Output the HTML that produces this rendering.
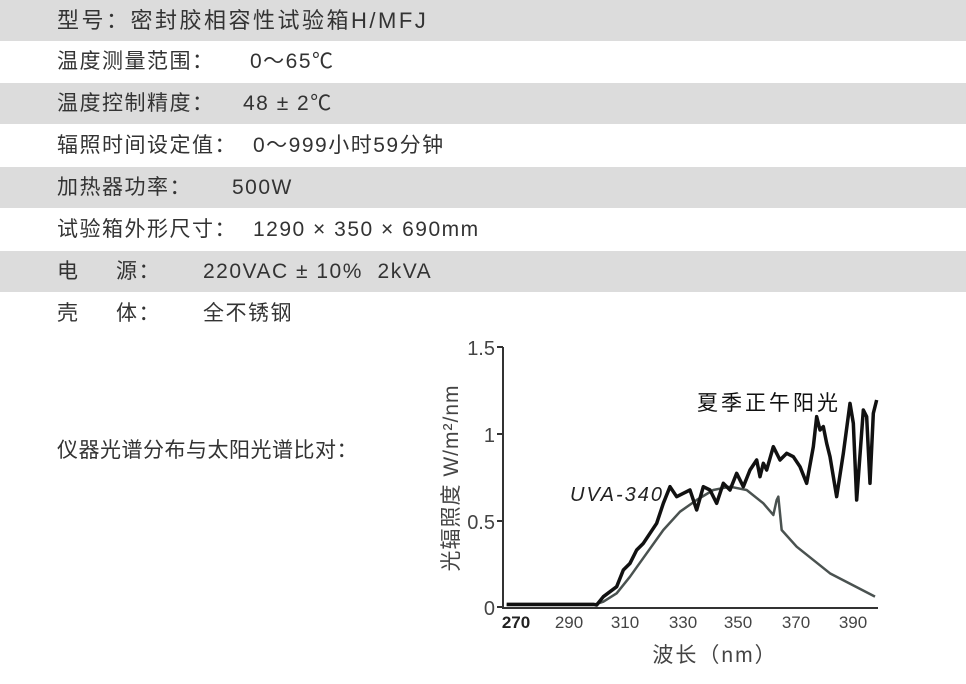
<!DOCTYPE html>
<html><head><meta charset="utf-8"><style>
body{margin:0;width:966px;height:684px;background:#fff;overflow:hidden;font-family:"Liberation Sans","Noto Sans CJK SC",sans-serif;color:#333;position:relative}
.r{position:absolute;left:0;width:966px;height:41px;font-size:21px;line-height:41px;letter-spacing:1.5px}
.g{background:#dcdcdc}
.r span{position:absolute;top:0;white-space:pre}
</style></head><body>
<div class="r g" style="top:0"><span style="left:57px;font-size:22px;letter-spacing:2.5px">型号：密封胶相容性试验箱H/MFJ</span></div>
<div class="r" style="top:41px"><span style="left:57px">温度测量范围：</span><span style="left:250px">0～65℃</span></div>
<div class="r g" style="top:83px"><span style="left:57px">温度控制精度：</span><span style="left:243px">48 ± 2℃</span></div>
<div class="r" style="top:125px"><span style="left:57px">辐照时间设定值：</span><span style="left:253px">0～999小时59分钟</span></div>
<div class="r g" style="top:167px"><span style="left:57px">加热器功率：</span><span style="left:232px">500W</span></div>
<div class="r" style="top:209px"><span style="left:57px">试验箱外形尺寸：</span><span style="left:253px">1290 × 350 × 690mm</span></div>
<div class="r g" style="top:251px"><span style="left:57px">电</span><span style="left:116px">源：</span><span style="left:203px">220VAC ± 10%  2kVA</span></div>
<div class="r" style="top:293px"><span style="left:57px">壳</span><span style="left:116px">体：</span><span style="left:203px">全不锈钢</span></div>
<div style="position:absolute;left:57px;top:434px;font-size:21px;letter-spacing:0.5px">仪器光谱分布与太阳光谱比对：</div>
<svg width="966" height="684" style="position:absolute;left:0;top:0" font-family="Liberation Sans,Noto Sans CJK SC,sans-serif">
<g stroke="#333" stroke-width="2" fill="none">
<path d="M503 347V608H878"/>
<path d="M497 347h6M497 434h6M497 521h6M497 607h6"/>
</g>
<g font-size="20" fill="#444" text-anchor="end">
<text x="495" y="355">1.5</text><text x="495" y="442">1</text><text x="495" y="529">0.5</text><text x="495" y="615">0</text>
</g>
<g font-size="17" fill="#444" text-anchor="middle">
<text x="516" y="628" font-weight="bold" fill="#222">270</text><text x="569" y="628">290</text><text x="625" y="628">310</text><text x="683" y="628">330</text><text x="738" y="628">350</text><text x="796" y="628">370</text><text x="853" y="628">390</text>
</g>
<text x="715" y="662" font-size="21" fill="#444" text-anchor="middle" letter-spacing="2">波长（nm）</text>
<text transform="translate(458,478) rotate(-90)" font-size="21" fill="#444" text-anchor="middle" letter-spacing="1">光辐照度 W/m²/nm</text>
<text x="697" y="410" font-size="21" fill="#111" letter-spacing="3">夏季正午阳光</text>
<text x="570" y="501" font-size="20" font-style="italic" fill="#222" letter-spacing="2">UVA-340</text>
<g transform="translate(430,330) scale(0.33333)" fill="none" stroke-linejoin="round">
<path vector-effect="non-scaling-stroke" stroke="#4a5250" stroke-width="2.5" d="M230 825L490 825L520 815L560 790L600 740L650 670L700 600L750 545L800 510L850 480L900 470L950 480L1000 520L1030 555L1040 510L1045 500L1055 600L1100 650L1200 730L1335 800"/>
<path vector-effect="non-scaling-stroke" stroke="#111" stroke-width="3.5" d="M230 823L490 823L500 825L520 800L560 770L580 720L600 700L620 660L640 640L660 610L680 580L700 520L720 470L740 500L760 490L780 480L800 540L820 470L840 480L860 520L880 460L900 480L920 430L940 470L960 420L980 390L990 440L1000 400L1010 420L1030 350L1050 390L1070 370L1090 380L1110 410L1130 460L1150 350L1160 260L1170 300L1180 290L1190 340L1200 380L1220 500L1240 370L1260 220L1270 280L1280 510L1300 240L1310 260L1320 460L1330 250L1340 210"/>
</g>
</svg>
</body></html>
